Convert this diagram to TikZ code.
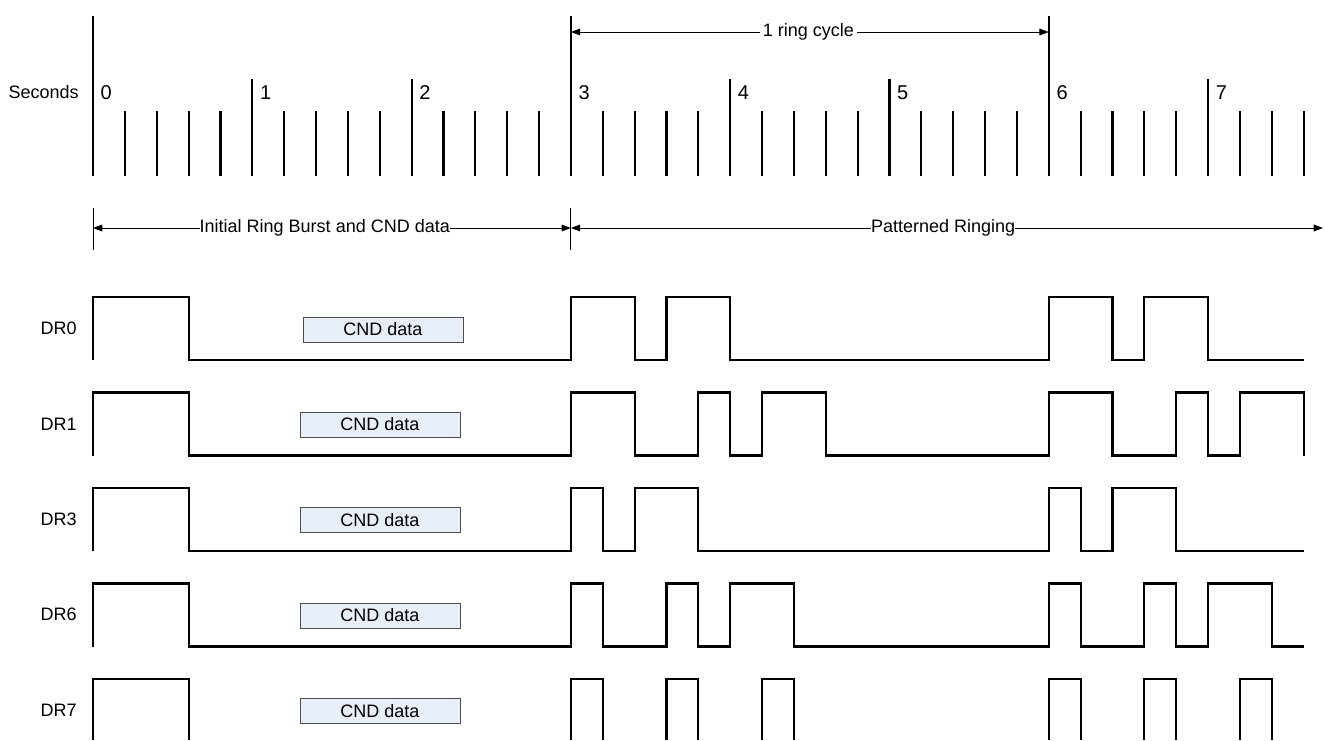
\documentclass[tikz,border=0pt]{standalone}
\usepackage{fontspec}
\setmainfont{Liberation Sans}
\usetikzlibrary{arrows.meta}
\definecolor{cndfill}{HTML}{E8EEF8}
\begin{document}
\begin{tikzpicture}[x=0.75pt,y=-0.75pt,
  lbl/.style={font=\fontsize{13.5}{16}\selectfont, inner sep=0pt},
  digit/.style={font=\fontsize{15}{18}\selectfont, inner sep=0pt},
  tickline/.style={line width=1.6pt},
  wave/.style={line width=1.6pt, line join=miter},
  dim/.style={line width=0.75pt, {Triangle[length=7pt,width=5pt]}-{Triangle[length=7pt,width=5pt]}},
  barline/.style={line width=0.75pt},
  cnd/.style={draw=black!70, line width=0.6pt, fill=cndfill, minimum width=120pt, minimum height=18.75pt, inner sep=0pt, font=\fontsize{13.5}{16}\selectfont}]
\useasboundingbox (0,0) rectangle (1325,740);

% labels on the left
\node[lbl,anchor=east] (sec) at (79,92) {Seconds};
\node[lbl,anchor=east] (dr0) at (77,328) {DR0};
\node[lbl,anchor=east] (dr1) at (77,424) {DR1};
\node[lbl,anchor=east] (dr3) at (77,519) {DR3};
\node[lbl,anchor=east] (dr6) at (77,614) {DR6};
\node[lbl,anchor=east] (dr7) at (77,710) {DR7};

% CND data boxes
\node[cnd] (c0) at (383,329.5) {CND data};
\node[cnd] (c1) at (380,424.5) {CND data};
\node[cnd] (c3) at (380,520) {CND data};
\node[cnd] (c6) at (380,615.5) {CND data};
\node[cnd] (c7) at (380,711) {CND data};

\coordinate (aend) at (1323,228);

\begin{scope}[x=119.475pt, xshift=69.75pt]
  % time ticks
  \foreach \i in {0,...,38}{
    \pgfmathsetmacro\tp{ifthenelse(mod(\i,15)==0,16,ifthenelse(mod(\i,5)==0,79,111))}
    \draw[tickline] (\i/5,\tp) -- (\i/5,176);
  }
  \foreach \n in {0,...,7}
    \node[digit,anchor=west] (s\n) at ([xshift=5.6pt]\n,92.5) {\n};

  % ring cycle
  \coordinate (rc1) at (3,32);
  \coordinate (rc2) at (6,32);
  \draw[dim] (rc1) -- (rc2) node[pos=0.497, lbl, fill=white, inner xsep=2pt] (rcl) {1 ring cycle};

  % phase arrows
  \draw[barline] (0,208) -- (0,250);
  \draw[barline] (3,208) -- (3,250);
  \coordinate (a0) at (0,228);
  \coordinate (a3) at (3,228);
  \draw[dim] (a0) -- (a3) node[pos=0.485, lbl, fill=white] (ib) {Initial Ring Burst and CND data};
  \draw[dim] (a3) -- (aend) node[pos=0.495, lbl, fill=white] (pr) {Patterned Ringing};

  % DR0
  \def\wh{297}\def\wl{360}
  \draw[wave] (0,\wl)--(0,\wh)--(0.6,\wh)--(0.6,\wl)--(3,\wl)--(3,\wh)--(3.4,\wh)--(3.4,\wl)--(3.6,\wl)--(3.6,\wh)--(4.0,\wh)--(4.0,\wl)--(6,\wl)--(6,\wh)--(6.4,\wh)--(6.4,\wl)--(6.6,\wl)--(6.6,\wh)--(7.0,\wh)--(7.0,\wl)--(7.6,\wl);
  % DR1
  \def\wh{392.5}\def\wl{455.5}
  \draw[wave] (0,\wl)--(0,\wh)--(0.6,\wh)--(0.6,\wl)--(3,\wl)--(3,\wh)--(3.4,\wh)--(3.4,\wl)--(3.8,\wl)--(3.8,\wh)--(4.0,\wh)--(4.0,\wl)--(4.2,\wl)--(4.2,\wh)--(4.6,\wh)--(4.6,\wl)--(6,\wl)--(6,\wh)--(6.4,\wh)--(6.4,\wl)--(6.8,\wl)--(6.8,\wh)--(7.0,\wh)--(7.0,\wl)--(7.2,\wl)--(7.2,\wh)--(7.6,\wh)--(7.6,\wl);
  % DR3
  \def\wh{488}\def\wl{551}
  \draw[wave] (0,\wl)--(0,\wh)--(0.6,\wh)--(0.6,\wl)--(3,\wl)--(3,\wh)--(3.2,\wh)--(3.2,\wl)--(3.4,\wl)--(3.4,\wh)--(3.8,\wh)--(3.8,\wl)--(6,\wl)--(6,\wh)--(6.2,\wh)--(6.2,\wl)--(6.4,\wl)--(6.4,\wh)--(6.8,\wh)--(6.8,\wl)--(7.6,\wl);
  % DR6
  \def\wh{583.5}\def\wl{646.5}
  \draw[wave] (0,\wl)--(0,\wh)--(0.6,\wh)--(0.6,\wl)--(3,\wl)--(3,\wh)--(3.2,\wh)--(3.2,\wl)--(3.6,\wl)--(3.6,\wh)--(3.8,\wh)--(3.8,\wl)--(4.0,\wl)--(4.0,\wh)--(4.4,\wh)--(4.4,\wl)--(6,\wl)--(6,\wh)--(6.2,\wh)--(6.2,\wl)--(6.6,\wl)--(6.6,\wh)--(6.8,\wh)--(6.8,\wl)--(7.0,\wl)--(7.0,\wh)--(7.4,\wh)--(7.4,\wl)--(7.6,\wl);
  % DR7
  \def\wh{679}\def\wl{740}
  \foreach \a/\b in {0/0.6,3/3.2,3.6/3.8,4.2/4.4,6/6.2,6.6/6.8,7.2/7.4}
    \draw[wave] (\a,\wl)--(\a,\wh)--(\b,\wh)--(\b,\wl);
\end{scope}
\end{tikzpicture}
\end{document}
